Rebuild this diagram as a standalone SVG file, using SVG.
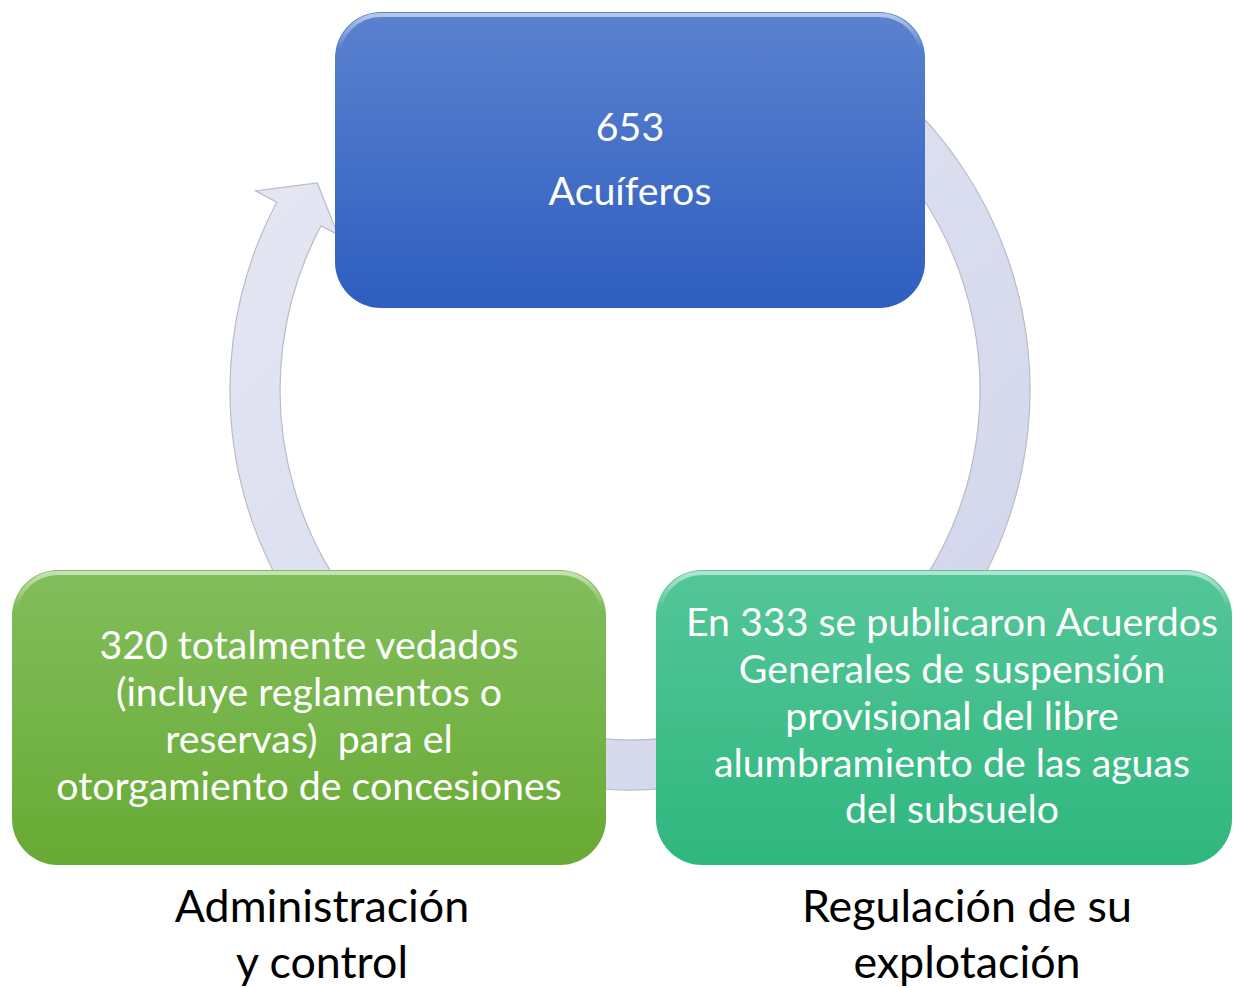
<svg xmlns="http://www.w3.org/2000/svg" width="1234" height="988" viewBox="0 0 1234 988">
<style>
.lbl{font-family:Lato,"Liberation Sans",sans-serif;font-size:39.3px;fill:#ffffff;text-anchor:middle}
.cap{font-family:Lato,"Liberation Sans",sans-serif;font-size:44.8px;fill:#000000;text-anchor:middle}
.hl{fill:none;stroke:url(#hlg);stroke-width:4}
</style>
<defs>
<linearGradient id="gBlue" x1="0" y1="0" x2="0" y2="1"><stop offset="0" stop-color="#5b82cf"/><stop offset="1" stop-color="#2f5ec0"/></linearGradient>
<linearGradient id="gGreen" x1="0" y1="0" x2="0" y2="1"><stop offset="0" stop-color="#82be5c"/><stop offset="1" stop-color="#68aa34"/></linearGradient>
<linearGradient id="gTeal" x1="0" y1="0" x2="0" y2="1"><stop offset="0" stop-color="#54c698"/><stop offset="1" stop-color="#2fb77e"/></linearGradient>
<linearGradient id="gRing" x1="0" y1="0" x2="1" y2="1"><stop offset="0" stop-color="#e6e8f4"/><stop offset="1" stop-color="#d0d4ea"/></linearGradient>
<linearGradient id="hlg" x1="0" y1="0" x2="0" y2="1"><stop offset="0" stop-color="#ffffff" stop-opacity="0.55"/><stop offset="0.12" stop-color="#ffffff" stop-opacity="0"/><stop offset="1" stop-color="#ffffff" stop-opacity="0"/></linearGradient>
</defs>
<g id="connectors">
<path id="cycle-arrow" d="M859.4,62.3 A400,400 0 1 1 276.8,202.2 L255.6,190.9 L317.3,183.0 L337.8,234.6 L321.0,225.7 A350,350 0 1 0 830.8,103.3 Z" fill="url(#gRing)" stroke="#b9bcc6" stroke-width="1.2"/>
</g>
<g id="node-acuiferos">
<rect x="335" y="12" width="590" height="296" rx="46" fill="url(#gBlue)"/>
<rect class="hl" x="338" y="15" width="584" height="290" rx="43"/>
<text class="lbl" x="630" y="141">653</text>
<text class="lbl" x="630" y="205">Acuíferos</text>
</g>
<g id="node-vedados">
<rect x="12" y="570" width="594" height="295" rx="46" fill="url(#gGreen)"/>
<rect class="hl" x="15" y="573" width="588" height="289" rx="43"/>
<text class="lbl" x="309" y="659">320 totalmente vedados</text>
<text class="lbl" x="309" y="706">(incluye reglamentos o</text>
<text class="lbl" x="309" y="753" xml:space="preserve">reservas)  para el</text>
<text class="lbl" x="309" y="800">otorgamiento de concesiones</text>
</g>
<g id="node-acuerdos">
<rect x="656" y="570" width="576" height="295" rx="46" fill="url(#gTeal)"/>
<rect class="hl" x="659" y="573" width="570" height="289" rx="43"/>
<text class="lbl" x="952" y="636">En 333 se publicaron Acuerdos</text>
<text class="lbl" x="952" y="683">Generales de suspensión</text>
<text class="lbl" x="952" y="730">provisional del libre</text>
<text class="lbl" x="952" y="777">alumbramiento de las aguas</text>
<text class="lbl" x="952" y="823">del subsuelo</text>
</g>
<g id="caption-admin">
<text class="cap" x="322" y="922">Administración</text>
<text class="cap" x="322" y="978">y control</text>
</g>
<g id="caption-reg">
<text class="cap" x="967" y="922">Regulación de su</text>
<text class="cap" x="967" y="978">explotación</text>
</g>
</svg>
